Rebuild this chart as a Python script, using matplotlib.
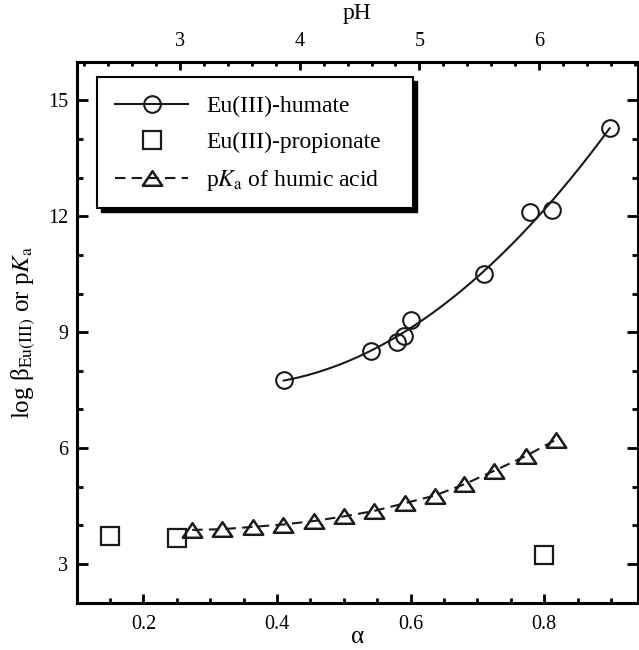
import numpy as np
import matplotlib
matplotlib.use("Agg")
import matplotlib.pyplot as plt
from matplotlib.patches import Rectangle
from matplotlib.path import Path
from matplotlib.lines import Line2D
from matplotlib.ticker import MultipleLocator

plt.rcParams['font.family'] = ['Liberation Serif', 'DejaVu Serif']
plt.rcParams['mathtext.fontset'] = 'stix'

# ---- data ----
humate_alpha = [0.41, 0.54, 0.579, 0.59, 0.60, 0.71, 0.779, 0.812, 0.898]
humate_logb = [7.77, 8.52, 8.74, 8.89, 9.32, 10.50, 12.10, 12.17, 14.28]

propionate_alpha = [0.15, 0.25, 0.80]
propionate_logb = [3.73, 3.66, 3.24]

pka_alpha = [0.273, 0.318, 0.364, 0.409, 0.455, 0.50, 0.545, 0.591, 0.636,
             0.68, 0.725, 0.772, 0.817]
pka_values = [3.88, 3.90, 3.96, 4.02, 4.11, 4.23, 4.37, 4.57, 4.77,
              5.06, 5.41, 5.79, 6.21]

ph_ticks = [3, 4, 5, 6]
x_ticks = [0.2, 0.4, 0.6, 0.8]
x_ticklabels = ['0.2', '0.4', '0.6', '0.8']
labels = ['Eu(III)-humate', 'Eu(III)-propionate', r'p$K_\mathrm{a}$ of humic acid']

# linear alpha <-> pH relation of the top axis
PH0, PH_SLOPE = 2.135, 5.584
def a2ph(a):
    return PH0 + PH_SLOPE * (np.asarray(a) - 0.1)
def ph2a(p):
    return 0.1 + (np.asarray(p) - PH0) / PH_SLOPE

INK = '#1a1a1a'
fig = plt.figure(figsize=(6.39, 6.5), dpi=100)
ax = fig.add_axes([0.12, 0.073, 0.878, 0.832])

# fitted curve through humate points
coef = np.polyfit(humate_alpha, humate_logb, 2)
xf = np.linspace(min(humate_alpha), max(humate_alpha), 200)
ax.plot(xf, np.polyval(coef, xf), color=INK, lw=1.5, zorder=2)
ax.plot(humate_alpha, humate_logb, ls='none', marker='o', ms=12, mfc='none',
        mec=INK, mew=1.5, zorder=3)

ax.plot(propionate_alpha, propionate_logb, ls='none', marker='s', ms=13,
        mfc='none', mec=INK, mew=1.6, zorder=3)

tri = Path([(-1, -0.75), (1, -0.75), (0, 0.75), (-1, -0.75)],
           [Path.MOVETO, Path.LINETO, Path.LINETO, Path.CLOSEPOLY])
ax.plot(pka_alpha, pka_values, ls=(0, (5, 3)), color=INK, lw=1.5,
        marker=tri, ms=14, mfc='none', mec=INK, mew=1.8, zorder=3)

ax.set_xlim(0.1, 0.94)
ax.set_ylim(2, 16)
ax.set_xticks(x_ticks)
ax.set_xticklabels(x_ticklabels)
ax.xaxis.set_minor_locator(MultipleLocator(0.05))
ax.yaxis.set_major_locator(MultipleLocator(3))
ax.yaxis.set_minor_locator(MultipleLocator(1))

for s in ax.spines.values():
    s.set_linewidth(2.2)
ax.tick_params(which='both', direction='in', top=False, right=True,
               labelsize=14.5, width=2)
ax.tick_params(axis='y', which='major', length=8, pad=6)
ax.tick_params(axis='y', which='minor', length=4.5)
ax.tick_params(axis='x', which='major', length=6.5, pad=9)
ax.tick_params(axis='x', which='minor', length=3.5)

ax.set_xlabel('α', fontsize=18, labelpad=-6)
ax.set_ylabel(r'log β$_{\mathrm{Eu(III)}}$ or p$K_\mathrm{a}$',
              fontsize=18, labelpad=8)

sec = ax.secondary_xaxis('top', functions=(a2ph, ph2a))
sec.set_xticks(ph_ticks)
sec.xaxis.set_minor_locator(MultipleLocator(0.2))
sec.tick_params(which='both', direction='in', labelsize=14.5, width=2, pad=8)
sec.tick_params(which='major', length=5.5)
sec.tick_params(which='minor', length=3)
sec.spines['top'].set_linewidth(2.2)
sec.set_xlabel('pH', fontsize=17, labelpad=9)

# legend box with shadow
bx0, by0, bw, bh = 0.036, 0.7295, 0.564, 0.2425
ax.add_patch(Rectangle((bx0 + 0.007, by0 - 0.008), bw, bh, transform=ax.transAxes,
                       facecolor='black', edgecolor='black', zorder=5))
ax.add_patch(Rectangle((bx0, by0), bw, bh, transform=ax.transAxes,
                       facecolor='white', edgecolor='black', lw=1.5, zorder=6))

h1 = Line2D([], [], color=INK, lw=1.5, marker='o', ms=12, mfc='none', mew=1.5)
h2 = Line2D([], [], ls='none', marker='s', ms=13, mfc='none', mec=INK, mew=1.6)
h3 = Line2D([], [], color=INK, lw=1.5, ls=(0, (5, 3)), marker=tri, ms=14,
            mfc='none', mec=INK, mew=1.8)
leg = ax.legend([h1, h2, h3], labels, loc='upper left',
                bbox_to_anchor=(0.052, 0.955), frameon=False, fontsize=17,
                handlelength=3.1, handletextpad=0.75, labelspacing=0.62,
                borderaxespad=0)
leg.set_zorder(7)

fig.savefig('out.png', dpi=100)
